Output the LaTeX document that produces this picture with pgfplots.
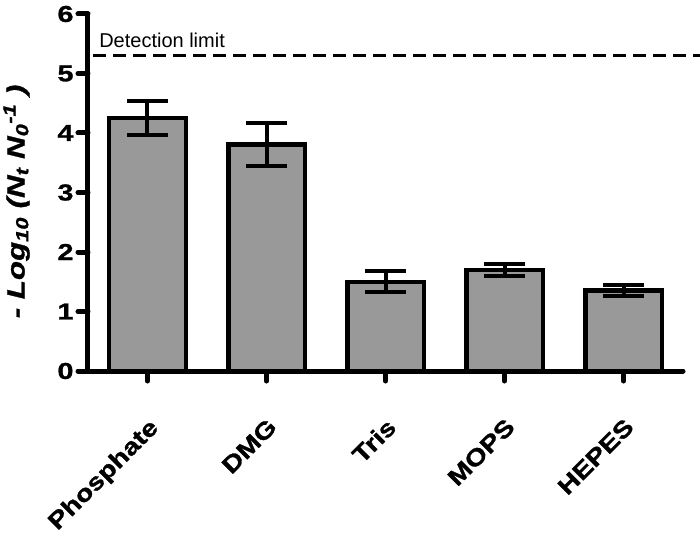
\documentclass[border=0pt]{standalone}
\usepackage{fontspec}
\setmainfont{Liberation Sans}
\newfontfamily\heavyfont[FakeStretch=1.25, FakeBold=1.2]{Liberation Sans Bold}
\newfontfamily\heavylab[FakeStretch=1.2, FakeBold=1.2]{Liberation Sans Bold}
\newfontfamily\heavyitalic[FakeStretch=1.25, FakeBold=1.2]{Liberation Sans Bold Italic}
\usepackage{pgfplots}
\pgfplotsset{compat=1.18}
\definecolor{bargray}{RGB}{153,153,153}
\begin{document}
\begin{tikzpicture}
\begin{axis}[
  scale only axis,
  width=595bp, height=357bp,
  xmin=-0.5, xmax=4.5, ymin=0, ymax=6,
  axis x line*=bottom, axis y line*=left,
  axis line style={line width=5bp, line cap=round},
  every tick/.style={line width=5bp, black, line cap=round},
  major tick length=10bp, tick align=outside,
  ytick={0,1,2,3,4,5,6},
  xtick={0,1,2,3,4},
  xticklabels={Phosphate,DMG,Tris,MOPS,HEPES},
  x tick label style={xshift=0bp, yshift=-31bp, rotate=45, anchor=north east, font=\heavylab\fontsize{23.5bp}{26bp}\selectfont},
  y tick label style={font=\heavyfont\fontsize{23bp}{26bp}\selectfont, xshift=-1bp},
  /pgf/number format/assume math mode=true,
  ylabel={- Log\textsubscript{10} (N\textsubscript{t} N\textsubscript{0}\textsuperscript{-1} )},
  ylabel style={font=\heavyitalic\fontsize{25bp}{28bp}\selectfont, at={(axis description cs:-0.12,0.475)}, anchor=center},
  clip=false,
]
\addplot[ybar, bar width=76.5bp, fill=bargray, draw=black, line width=4.5bp,
  error bars/.cd, y dir=both, y explicit,
  error bar style={line width=4bp, black},
  error mark options={rotate=90, mark size=20.5bp, line width=4bp, black}]
  coordinates {
  (0,4.25) +- (0,0.29)
  (1,3.81) +- (0,0.36)
  (2,1.50) +- (0,0.18)
  (3,1.70) +- (0,0.10)
  (4,1.35) +- (0,0.09)
};
\addplot[black, line width=3bp, dash pattern=on 13bp off 7bp] coordinates {(-0.458,5.31) (4.644,5.31)};
\node[anchor=base west, font=\fontsize{20bp}{24bp}\selectfont, inner sep=0pt] at (axis cs:-0.407,5.445) {Detection limit};
\end{axis}
\pgfresetboundingbox
\path ([shift={(-88bp,-163bp)}]current axis.south west) rectangle ([shift={(612bp,371bp)}]current axis.south west);
\end{tikzpicture}
\end{document}
